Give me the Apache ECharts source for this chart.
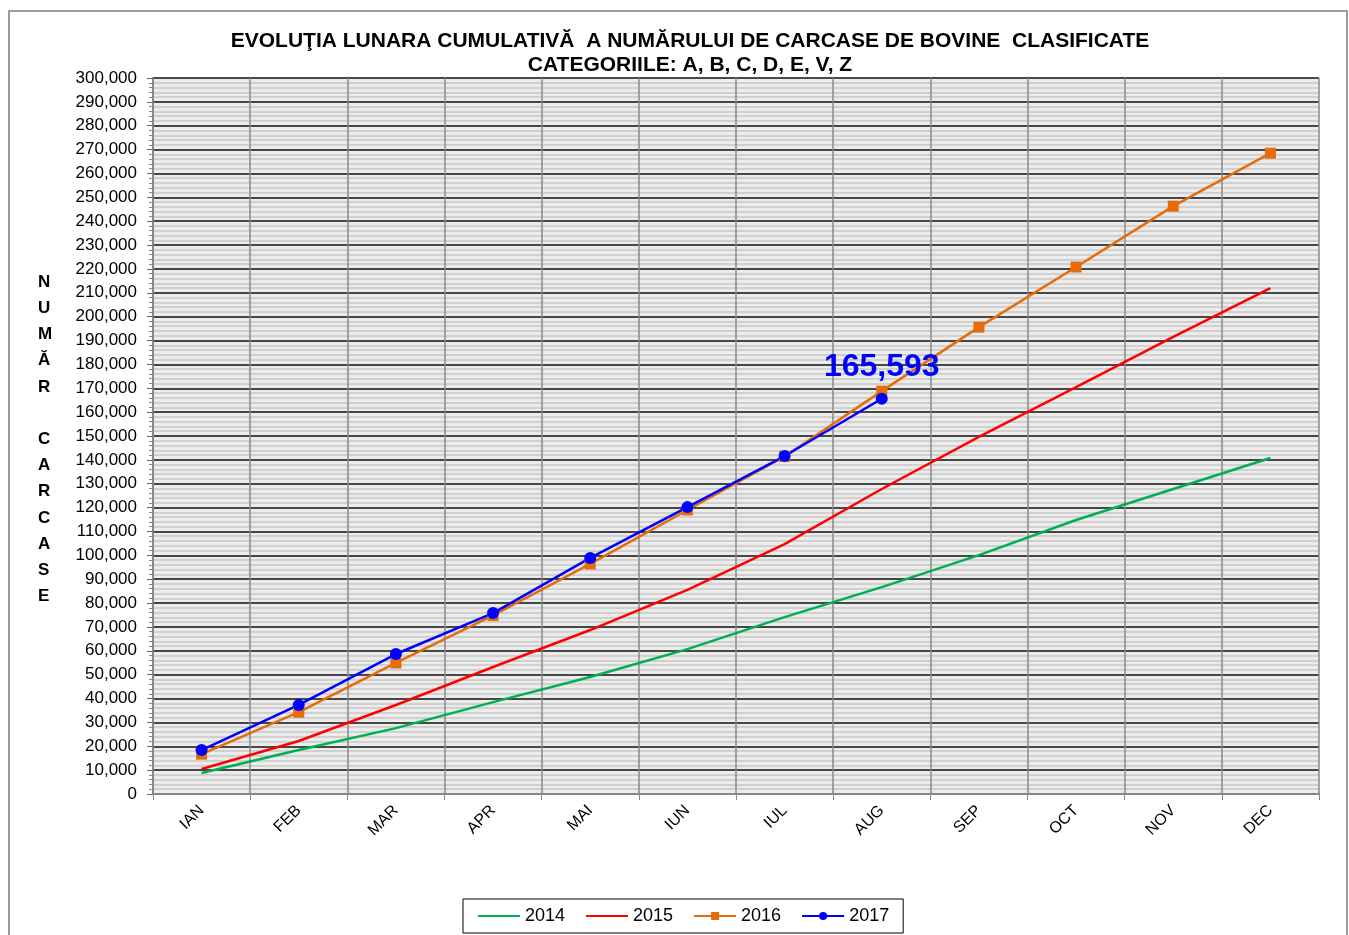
<!DOCTYPE html>
<html>
<head>
<meta charset="utf-8">
<script src="https://cdn.jsdelivr.net/npm/echarts@6/dist/echarts.min.js"></script>
<style>
html, body { margin: 0; padding: 0; background: #fff; }
#chart { width: 1349px; height: 935px; }
</style>
</head>
<body>
<div id="chart"></div>
<script>
// luni
var months = ["IAN", "FEB", "MAR", "APR", "MAI", "IUN", "IUL", "AUG", "SEP", "OCT", "NOV", "DEC"];
// valori cumulative
var data2014 = [8800, 18400, 27600, 38500, 49000, 60700, 74100, 86700, 100100, 114800, 127800, 140800];
var data2015 = [10500, 22200, 37300, 53200, 68700, 85500, 104700, 127800, 149600, 170500, 191500, 212000];
var data2016 = [16700, 34300, 54900, 74800, 96400, 119000, 141400, 168800, 195600, 220800, 246300, 268500];
var data2017 = [18400, 37300, 58650, 75800, 98900, 120200, 141600, 165593];
var yTitle = ["N", "U", "M", "Ă", "R", "", "C", "A", "R", "C", "A", "S", "E"];

var chart = echarts.init(document.getElementById("chart"));

var option = {
    animation: false,
    backgroundColor: "#fff",
    title: {
        text: "EVOLUŢIA LUNARA CUMULATIVĂ  A NUMĂRULUI DE CARCASE DE BOVINE  CLASIFICATE\nCATEGORIILE: A, B, C, D, E, V, Z",
        left: 685,
        top: 24,
        textAlign: "center",
        textStyle: {
            fontFamily: "Liberation Sans, Arial",
            fontWeight: "bold",
            fontSize: 21,
            lineHeight: 24,
            color: "#000"
        }
    },
    graphic: [
        {
            type: "rect",
            shape: { x: 9, y: 11, width: 1338, height: 940 },
            style: { fill: "none", stroke: "#9a9a9a", lineWidth: 2 },
            silent: true
        },
        {
            type: "text",
            left: 38,
            top: 269,
            style: {
                text: yTitle.join("\n"),
                font: "bold 17px Liberation Sans, Arial",
                lineHeight: 26.2,
                align: "center",
                fill: "#000"
            }
        }
    ],
    legend: {
        bottom: 2,
        left: 463,
        itemGap: 20,
        itemWidth: 42,
        itemHeight: 10,
        padding: [8, 14, 8, 14],
        borderColor: "#000",
        borderWidth: 1,
        textStyle: { fontSize: 18, color: "#000", fontFamily: "Liberation Sans, Arial" },
        data: [
            { name: "2014", itemStyle: { opacity: 0 } },
            { name: "2015", itemStyle: { opacity: 0 } },
            { name: "2016" },
            { name: "2017" }
        ]
    },
    grid: {
        left: 153,
        right: 30,
        top: 78,
        bottom: 141,
        show: true,
        backgroundColor: "#ececec",
        borderWidth: 0
    },
    xAxis: {
        type: "category",
        data: months,
        boundaryGap: true,
        axisLine: { lineStyle: { color: "#888", width: 2 } },
        axisTick: { show: true, alignWithLabel: false, length: 6, lineStyle: { color: "#888" } },
        splitLine: { show: true, lineStyle: { color: "#8a8a8a", width: 1.5 } },
        axisLabel: {
            rotate: 45,
            fontSize: 16,
            color: "#000",
            margin: 14,
            fontFamily: "Liberation Sans, Arial"
        }
    },
    yAxis: {
        type: "value",
        min: 0,
        max: 300000,
        interval: 10000,
        axisLine: { show: true, lineStyle: { color: "#888", width: 2 } },
        axisTick: { show: true, length: 6, lineStyle: { color: "#666" } },
        minorTick: { show: true, splitNumber: 5, length: 4, lineStyle: { color: "#888" } },
        minorSplitLine: { show: true, lineStyle: { color: "#d0d0d0", width: 2 } },
        splitLine: { show: true, lineStyle: { color: "#111", width: 1.5 } },
        axisLabel: {
            fontSize: 17,
            color: "#000",
            margin: 16,
            fontFamily: "Liberation Sans, Arial",
            formatter: function (v) {
                return v.toLocaleString("en-US");
            }
        }
    },
    series: [
        {
            name: "2014",
            type: "line",
            data: data2014,
            symbol: "none",
            lineStyle: { color: "#00B050", width: 2.5 },
            itemStyle: { color: "#00B050" }
        },
        {
            name: "2015",
            type: "line",
            data: data2015,
            symbol: "none",
            lineStyle: { color: "#FF0000", width: 2.5 },
            itemStyle: { color: "#FF0000" }
        },
        {
            name: "2016",
            type: "line",
            data: data2016,
            symbol: "rect",
            symbolSize: 11,
            lineStyle: { color: "#E46C0A", width: 2.5 },
            itemStyle: { color: "#E46C0A" }
        },
        {
            name: "2017",
            type: "line",
            data: data2017,
            symbol: "circle",
            symbolSize: 12,
            lineStyle: { color: "#0000FF", width: 2.5 },
            itemStyle: { color: "#0000FF" },
            label: {
                show: true,
                position: "top",
                distance: 10,
                color: "#0000FF",
                fontSize: 32,
                fontWeight: "bold",
                fontFamily: "Liberation Sans, Arial",
                formatter: function (p) {
                    return p.dataIndex === data2017.length - 1 ? p.value.toLocaleString("en-US") : "";
                }
            }
        }
    ]
};

chart.setOption(option);
</script>
</body>
</html>
